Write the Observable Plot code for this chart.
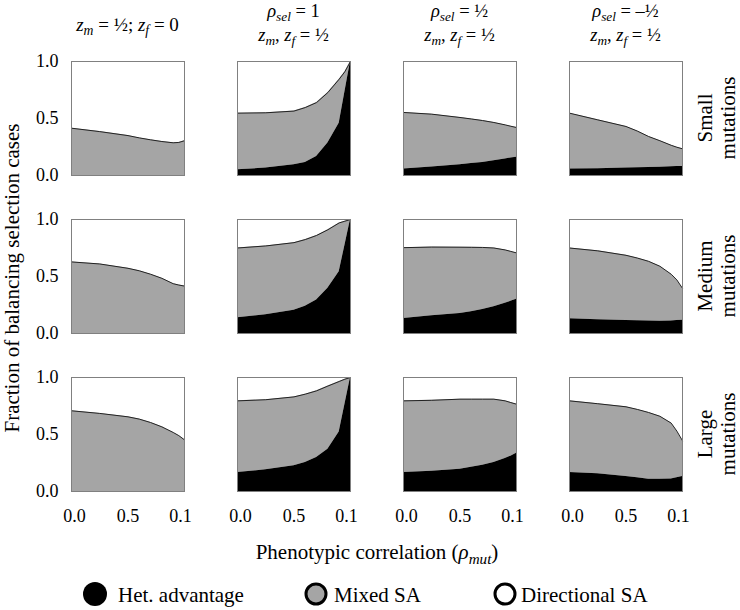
<!DOCTYPE html>
<html><head><meta charset="utf-8">
<script src="https://cdn.jsdelivr.net/npm/d3@7"></script>
<script src="https://cdn.jsdelivr.net/npm/@observablehq/plot@0.6"></script>
<style>
body{margin:0;background:#fff;font-family:"Liberation Serif","Times New Roman",serif;}
#wrap{position:relative;width:740px;height:610px;overflow:hidden;}
#wrap svg, #wrap svg text, #wrap svg tspan{font-family:"Liberation Serif","Times New Roman",serif !important;}
text{white-space:pre;}
</style></head><body><div id="wrap"></div>
<script>
// ---- data ----
const xGrid = [0, 0.25, 0.5, 0.6, 0.7, 0.8, 0.9, 0.95, 1];
const columns = ["zm=1/2;zf=0", "rho=1", "rho=1/2", "rho=-1/2"];
const rows = ["Small", "Medium", "Large"];
const xTickValues = [0, 0.5, 1];
const xTickLabels = ["0.0", "0.5", "0.1"];
const yTickValues = [0, 0.5, 1];
const yTickLabels = ["0.0", "0.5", "1.0"];

// upper edge of the "Mixed SA" band (Het + Mixed), one list per column
const totalSmall = [
  [0.415, 0.385, 0.35, 0.33, 0.313, 0.298, 0.287, 0.29, 0.305],
  [0.547, 0.55, 0.565, 0.596, 0.64, 0.728, 0.845, 0.91, 1.0],
  [0.553, 0.538, 0.509, 0.496, 0.482, 0.465, 0.444, 0.432, 0.421],
  [0.547, 0.488, 0.43, 0.39, 0.342, 0.305, 0.265, 0.248, 0.234]
];
const hetSmall = [
  [0, 0, 0, 0, 0, 0, 0, 0, 0],
  [0.05, 0.065, 0.095, 0.114, 0.167, 0.284, 0.459, 0.73, 1.0],
  [0.056, 0.075, 0.094, 0.105, 0.115, 0.13, 0.145, 0.153, 0.16],
  [0.056, 0.06, 0.066, 0.068, 0.07, 0.073, 0.076, 0.078, 0.079]
];
const totalMedium = [
  [0.628, 0.61, 0.572, 0.55, 0.52, 0.484, 0.437, 0.425, 0.416],
  [0.75, 0.768, 0.797, 0.824, 0.86, 0.91, 0.97, 0.985, 1.0],
  [0.753, 0.758, 0.757, 0.756, 0.755, 0.75, 0.733, 0.72, 0.707],
  [0.75, 0.725, 0.686, 0.662, 0.633, 0.59, 0.52, 0.47, 0.396]
];
const hetMedium = [
  [0, 0, 0, 0, 0, 0, 0, 0, 0],
  [0.138, 0.165, 0.205, 0.24, 0.293, 0.396, 0.542, 0.77, 1.0],
  [0.132, 0.155, 0.176, 0.19, 0.211, 0.235, 0.265, 0.282, 0.3],
  [0.13, 0.12, 0.114, 0.112, 0.109, 0.108, 0.11, 0.113, 0.117]
];
const totalLarge = [
  [0.708, 0.685, 0.655, 0.635, 0.605, 0.567, 0.518, 0.49, 0.453],
  [0.795, 0.805, 0.83, 0.854, 0.883, 0.925, 0.965, 0.985, 1.0],
  [0.795, 0.8, 0.81, 0.81, 0.81, 0.81, 0.795, 0.78, 0.766],
  [0.795, 0.77, 0.743, 0.72, 0.693, 0.66, 0.6, 0.53, 0.445]
];
const hetLarge = [
  [0, 0, 0, 0, 0, 0, 0, 0, 0],
  [0.167, 0.19, 0.225, 0.254, 0.298, 0.371, 0.523, 0.76, 1.0],
  [0.167, 0.178, 0.196, 0.212, 0.23, 0.255, 0.29, 0.31, 0.336],
  [0.167, 0.155, 0.132, 0.12, 0.108, 0.108, 0.11, 0.12, 0.132]
];

// column titles: [text, style] with i = italic, s = italic subscript
const colTitles = [
  [[["z","i"],["m","s"],[" = ½; "],["z","i"],["f","s"],[" = 0"]]],
  [[["ρ","i"],["sel","s"],[" = 1"]], [["z","i"],["m","s"],[", "],["z","i"],["f","s"],[" = ½"]]],
  [[["ρ","i"],["sel","s"],[" = ½"]], [["z","i"],["m","s"],[", "],["z","i"],["f","s"],[" = ½"]]],
  [[["ρ","i"],["sel","s"],[" = –½"]], [["z","i"],["m","s"],[", "],["z","i"],["f","s"],[" = ½"]]]
];
const rowLabelSecond = "mutations";
const yTitle = "Fraction of balancing selection cases";
const xTitleParts = [["Phenotypic correlation ("],["ρ","i"],["mut","s"],[")"]];
const legendItems = ["Het. advantage", "Mixed SA", "Directional SA"];
const legendFills = ["#000000", "#a5a5a5", "#ffffff"];

// ---- table ----
const totals = [totalSmall, totalMedium, totalLarge];
const hets = [hetSmall, hetMedium, hetLarge];
const table = [];
rows.forEach((r, ri) => columns.forEach((c, ci) => xGrid.forEach((x, k) => {
  table.push({row: r, col: c, x, het: hets[ri][ci][k], tot: totals[ri][ci][k]});
})));

const xFmt = d => xTickLabels[xTickValues.indexOf(d)];
const yFmt = d => yTickLabels[yTickValues.indexOf(d)];
const W = 740, H = 570;
const plot = Plot.plot({
  width: W, height: H,
  marginTop: 61, marginBottom: H - 492, marginLeft: 70, marginRight: 56,
  style: "font-family: 'Liberation Serif', serif; font-size: 18px; background: white; color: black;",
  fx: {domain: columns, paddingInner: 0.317, paddingOuter: 0, axis: null},
  fy: {domain: rows, paddingInner: 0.278, paddingOuter: 0, axis: null},
  x: {domain: [0, 1], label: null},
  y: {domain: [0, 1], label: null},
  marks: [
    Plot.areaY(table, {x: "x", y1: "het", y2: "tot", fx: "col", fy: "row", fill: "#a5a5a5"}),
    Plot.areaY(table, {x: "x", y1: 0, y2: "het", fx: "col", fy: "row", fill: "#000000"}),
    Plot.lineY(table, {x: "x", y: "tot", fx: "col", fy: "row", stroke: "#222", strokeWidth: 1}),
    Plot.frame({stroke: "#808080", strokeWidth: 1}),
    Plot.axisX([xTickValues[0]], {tickSize: 0, tickPadding: 18, dx: 3, tickFormat: xFmt, label: null}),
    Plot.axisX([xTickValues[1]], {tickSize: 0, tickPadding: 18, tickFormat: xFmt, label: null}),
    Plot.axisX([xTickValues[2]], {tickSize: 0, tickPadding: 18, dx: -4, tickFormat: xFmt, label: null}),
    Plot.axisY(yTickValues, {tickSize: 0, tickPadding: 13, tickFormat: yFmt, label: null})
  ]
});

const svg = d3.select(plot);
const fxS = plot.scale("fx"), fyS = plot.scale("fy");
const g = svg.append("g").attr("fill", "black");

function rich(parent, parts, x, y, size, anchor = "middle") {
  const t = parent.append("text").attr("x", x).attr("y", y)
    .attr("text-anchor", anchor).attr("font-size", size);
  let sub = false;
  for (const [s, k] of parts) {
    const ts = t.append("tspan").text(s);
    const isSub = k === "s";
    if (k === "i" || k === "s") ts.attr("font-style", "italic");
    if (isSub) { ts.attr("font-size", size * 0.72); if (!sub) ts.attr("dy", size * 0.22); }
    else if (sub) ts.attr("dy", -size * 0.22);
    sub = isSub;
  }
  return t;
}

columns.forEach((c, ci) => {
  const cx = fxS.apply(c) + fxS.bandwidth / 2;
  const lines = colTitles[ci];
  if (lines.length === 1) rich(g, lines[0], cx, 31, 19);
  else { rich(g, lines[0], cx, 17, 18.5); rich(g, lines[1], cx, 41, 18.5); }
});

rows.forEach(r => {
  const cy = fyS.apply(r) + fyS.bandwidth / 2;
  g.append("text").attr("transform", `translate(712,${cy}) rotate(-90)`)
    .attr("text-anchor", "middle").attr("font-size", 21).text(r);
  g.append("text").attr("transform", `translate(735,${cy}) rotate(-90)`)
    .attr("text-anchor", "middle").attr("font-size", 21).text(rowLabelSecond);
});

g.append("text").attr("transform", `translate(19,278) rotate(-90)`)
  .attr("text-anchor", "middle").attr("font-size", 21).text(yTitle);
rich(g, xTitleParts, 377, 559, 21);

document.getElementById("wrap").appendChild(plot);

// legend below the svg
const lg = d3.select("#wrap").append("svg").attr("width", W).attr("height", 610 - H)
  .style("display", "block");
const lx = [95, 316, 505], tx = [118, 334, 521];
legendItems.forEach((name, i) => {
  lg.append("circle").attr("cx", lx[i]).attr("cy", 24).attr("r", i === 0 ? 12 : 10)
    .attr("fill", legendFills[i]).attr("stroke", "black").attr("stroke-width", i === 0 ? 0 : 3);
  lg.append("text").attr("x", tx[i]).attr("y", 32).attr("font-size", 21).text(name);
});
</script></body></html>
